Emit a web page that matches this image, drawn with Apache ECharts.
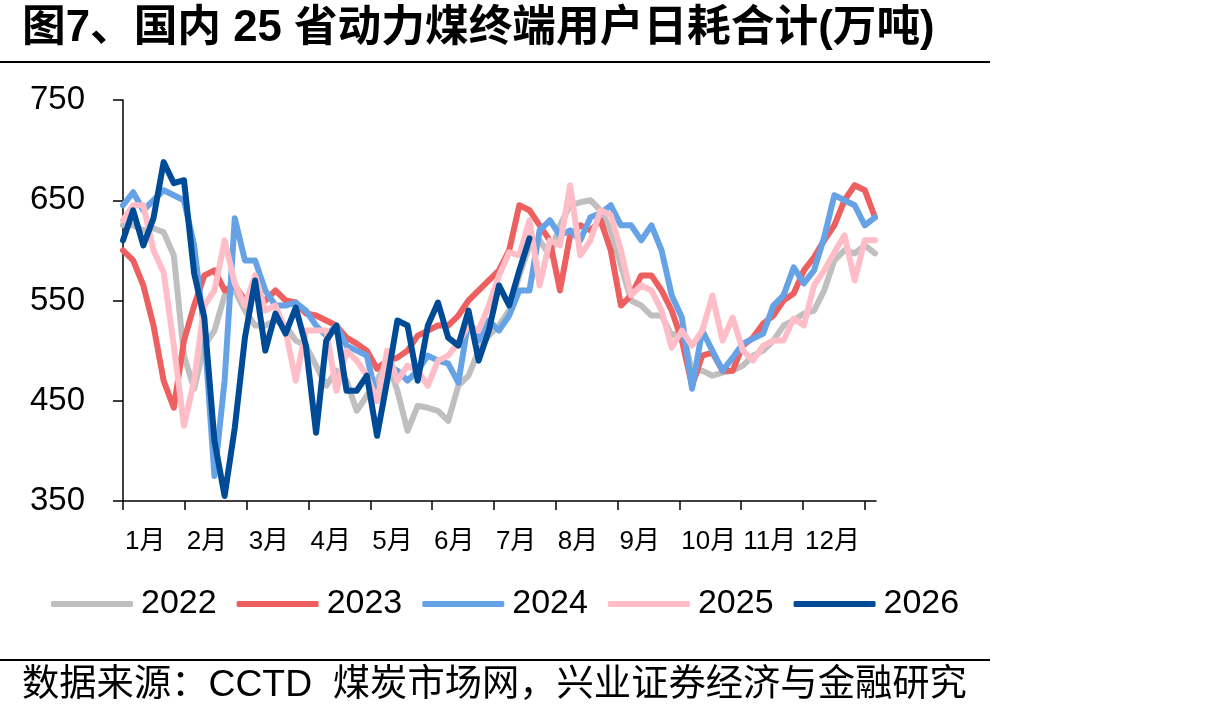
<!DOCTYPE html>
<html>
<head>
<meta charset="utf-8">
<script src="https://cdn.jsdelivr.net/npm/echarts@6/dist/echarts.min.js"></script>
<style>
html,body{margin:0;padding:0;background:#fff;}
#chart{width:1205px;height:720px;}
</style>
</head>
<body>
<div id="chart"></div>
<script>
// day-of-year sample positions (5-day steps)
var days = [];
for (var k = 0; k <= 370; k += 5) days.push(k);

var monthLabels = ['1月','2月','3月','4月','5月','6月','7月','8月','9月','10月','11月','12月'];
var yTicks = [350, 450, 550, 650, 750];
var seriesNames = ['2022','2023','2024','2025','2026'];

var v2022 = [625,625,620,622,618,595,495,462,505,520,555,560,540,525,525,530,525,510,505,
  485,465,480,470,440,455,470,490,460,420,445,443,440,430,465,475,500,515,
  525,540,575,605,610,595,625,645,648,650,640,620,585,550,545,535,535,515,520,
  480,480,475,478,480,485,495,500,510,525,530,537,540,560,590,600,597,605,597];

var v2023 = [600,590,565,525,470,443,510,545,575,580,560,565,550,555,550,560,550,548,537,
  535,530,525,513,507,500,482,490,493,500,515,520,525,525,535,550,560,570,
  580,600,645,640,625,610,560,615,625,620,630,600,545,555,575,575,560,540,510,
  465,495,498,480,480,505,513,527,535,550,557,580,593,610,625,650,665,660,633];

var v2024 = [645,658,640,650,660,655,650,605,520,375,470,632,590,590,560,545,545,548,540,
  525,515,525,505,500,495,450,485,480,470,480,495,490,487,468,530,510,530,
  520,535,560,560,620,630,615,620,610,633,637,645,625,625,610,625,600,555,533,
  462,520,500,480,493,507,512,517,545,555,583,567,580,613,655,650,645,625,633];

var v2025 = [630,645,645,600,578,505,425,470,545,560,610,567,545,575,540,545,520,470,520,
  520,520,460,500,490,475,450,500,470,485,480,465,490,495,508,525,520,545,
  575,598,595,630,565,610,605,665,595,610,640,635,600,555,565,560,540,503,520,
  505,520,555,510,533,500,490,505,510,510,532,525,565,580,598,615,570,610,610];

var v2026 = [610,640,605,632,688,667,670,577,533,410,355,423,513,570,500,537,517,543,505,
  418,510,525,460,460,475,415,470,530,525,470,525,548,513,505,540,490,520,
  565,545,580,612];

var colors = ['#BFBFBF','#EE5F60','#66A3E6','#FFBDC7','#004B96'];
var allValues = [v2022, v2023, v2024, v2025, v2026];

var monthLen = 365 / 12;
var tickVals = [];
for (var m = 0; m <= 12; m++) tickVals.push(m * monthLen);
var labelVals = tickVals.slice(0, 12);

var FONT = '"Liberation Sans", Arial, "Noto Sans CJK SC", sans-serif';

var series = allValues.map(function (vals, i) {
  return {
    name: seriesNames[i],
    type: 'line',
    symbol: 'none',
    showSymbol: false,
    smooth: false,
    z: 2 + i,
    lineStyle: { width: 6, color: colors[i], cap: 'round', join: 'round' },
    itemStyle: { color: colors[i] },
    data: vals.map(function (v, j) { return [days[j], v]; })
  };
});

var chart = echarts.init(document.getElementById('chart'), null, { renderer: 'canvas' });
chart.setOption({
  animation: false,
  backgroundColor: '#fff',
  textStyle: { fontFamily: FONT },
  color: colors,
  grid: { left: 123, right: 329, top: 100, bottom: 219, containLabel: false },
  xAxis: {
    type: 'value',
    min: 0,
    max: 370.5,
    axisLine: { show: true, onZero: false, lineStyle: { color: '#000', width: 1.5 } },
    axisTick: { show: true, length: 9, customValues: tickVals, lineStyle: { color: '#000', width: 1.5 } },
    axisLabel: {
      customValues: labelVals,
      align: 'left',
      margin: 28,
      padding: [0, 0, 0, 2],
      fontSize: 26,
      color: '#000',
      fontFamily: FONT,
      formatter: function (val) {
        var idx = Math.round(val / monthLen);
        return monthLabels[idx] || '';
      }
    },
    splitLine: { show: false }
  },
  yAxis: {
    type: 'value',
    min: yTicks[0],
    max: yTicks[yTicks.length - 1],
    interval: 100,
    axisLine: { show: true, lineStyle: { color: '#000', width: 1.5 } },
    axisTick: { show: true, length: 10, lineStyle: { color: '#000', width: 1.5 } },
    axisLabel: { fontSize: 33, color: '#000', margin: 38, fontFamily: FONT },
    splitLine: { show: false }
  },
  legend: {
    left: 46,
    top: 582,
    icon: 'roundRect',
    itemWidth: 82,
    itemHeight: 6,
    itemGap: 20,
    textStyle: { fontSize: 34, color: '#000', fontFamily: FONT, padding: [0, 0, 0, 3] },
    data: seriesNames
  },
  graphic: [
    {
      type: 'text', left: 22, top: 7,
      style: { text: '图7、国内 25 省动力煤终端用户日耗合计(万吨)', fontSize: 43.7, fontWeight: 'bold', fontFamily: FONT, fill: '#000' }
    },
    {
      type: 'line', shape: { x1: 0, y1: 62, x2: 990, y2: 62 },
      style: { stroke: '#000', lineWidth: 2 }
    },
    {
      type: 'line', shape: { x1: 0, y1: 660, x2: 990, y2: 660 },
      style: { stroke: '#000', lineWidth: 2 }
    },
    {
      type: 'text', left: 22, top: 667,
      style: { text: '数据来源：CCTD  煤炭市场网，兴业证券经济与金融研究', fontSize: 37.3, fontFamily: FONT, fill: '#000' }
    }
  ],
  series: series
});
</script>
</body>
</html>
